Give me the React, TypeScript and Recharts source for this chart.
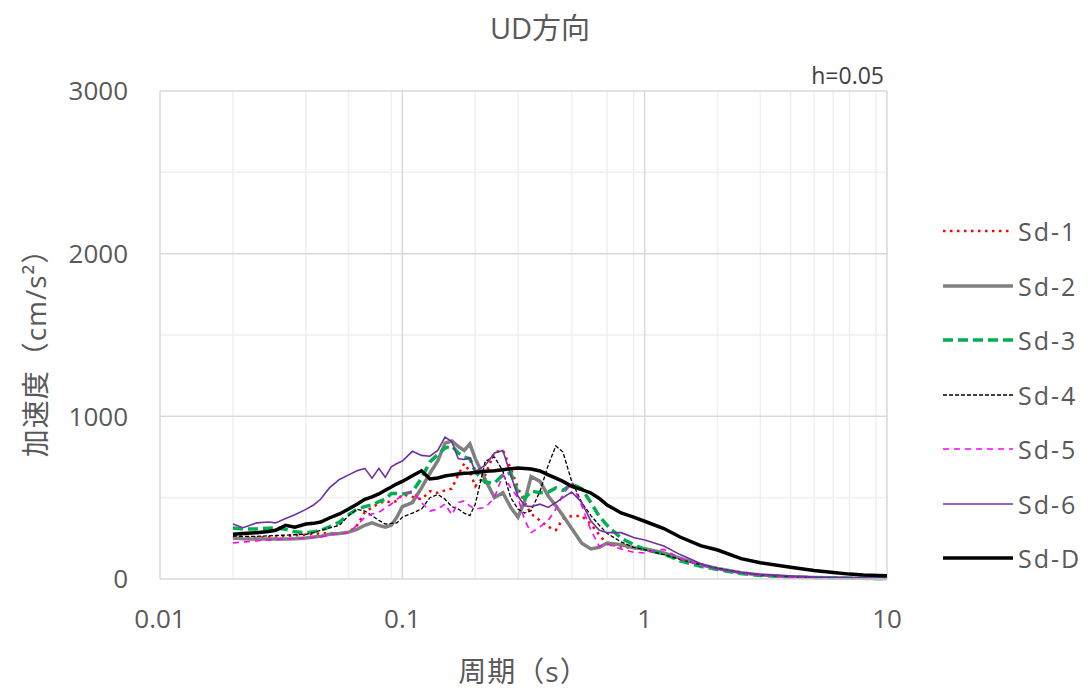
import React from 'react';
import { LineChart, Line, XAxis, YAxis, CartesianGrid } from 'recharts';

// 周期 (s)
const periods = [
  0.02, 0.022, 0.025, 0.028, 0.03, 0.033, 0.036, 0.04, 0.043, 0.046,
  0.05, 0.055, 0.06, 0.065, 0.07, 0.075, 0.08, 0.085, 0.09, 0.095,
  0.1, 0.11, 0.12, 0.13, 0.14, 0.15, 0.16, 0.17, 0.18, 0.19,
  0.2, 0.22, 0.24, 0.26, 0.28, 0.3, 0.32, 0.34, 0.37, 0.4,
  0.43, 0.46, 0.5, 0.55, 0.6, 0.65, 0.7, 0.8, 0.9, 1.0,
  1.2, 1.4, 1.7, 2, 2.5, 3, 4, 5, 6, 7,
  8, 10,
];

// 加速度応答スペクトル (cm/s²), h=0.05
const sd1 = [
  264, 258, 254, 258, 262, 264, 268, 272, 278, 280,
  283, 280, 285, 330, 410, 440, 465, 480, 470, 480,
  520, 505, 490, 540, 530, 545, 555, 640, 710, 660,
  570, 640, 780, 790, 680, 560, 470, 400, 360, 320,
  300, 370, 387, 387, 338, 270, 215, 200, 190, 180,
  155, 125, 90, 65, 38, 24, 13, 9, 7, 5,
  4, 3,
];
const sd2 = [
  252, 248, 246, 246, 246, 246, 248, 252, 258, 262,
  275, 280, 288, 305, 330, 345, 330, 318, 330, 380,
  445, 470, 560, 650, 725, 835, 848, 815, 790, 830,
  740, 610, 500, 530, 440, 380, 480, 630, 600, 510,
  450, 390, 310, 220, 185, 195, 221, 210, 192, 186,
  160, 128, 88, 65, 38, 25, 14, 9, 7, 5,
  4, 3,
];
const sd3 = [
  314, 308, 308, 312, 314, 305, 290, 283, 290, 298,
  320, 350, 395, 430, 445, 455, 475, 490, 525, 525,
  522, 535, 620, 720, 765, 805, 818, 775, 750, 740,
  660, 595, 590, 640, 652, 530, 495, 541, 530, 535,
  560, 545, 584, 555, 470, 385, 330, 250, 212, 182,
  154, 111, 78, 58, 33, 22, 12, 8, 6, 5,
  4, 3,
];
const sd4 = [
  264, 262, 262, 265, 268, 270, 272, 275, 285, 300,
  314, 330, 390, 428, 418, 390, 360, 338, 342, 345,
  380, 405, 430, 500, 520, 490, 445, 430, 405, 390,
  460, 725, 750, 664, 500, 430, 405, 420, 540, 700,
  818, 780, 600, 470, 390, 330, 280, 228, 195, 180,
  150, 120, 88, 66, 40, 26, 14, 9, 7, 5,
  4, 3,
];
const sd5 = [
  221, 228, 234, 240, 242, 245, 250, 252, 256, 260,
  270, 278, 283, 330, 380, 400, 410, 435, 461, 490,
  515, 541, 470, 418, 430, 461, 395, 470, 480, 449,
  430, 440, 500, 640, 560, 500, 360, 285, 320, 360,
  430, 520, 590, 450, 300, 200, 215, 184, 165, 160,
  182, 125, 85, 60, 35, 22, 12, 8, 6, 5,
  4, 3,
];
const sd6 = [
  338, 315, 345, 350, 345, 372, 395, 428, 455, 490,
  560, 612, 640, 665, 680, 620, 680, 625, 690, 710,
  725, 785, 760, 755, 790, 872, 845, 740, 735, 744,
  660, 700, 775, 790, 640, 510, 450, 445, 460, 440,
  470, 500, 535, 470, 357, 300, 285, 285, 255, 240,
  203, 150, 95, 62, 40, 28, 18, 12, 9, 7,
  6, 5,
];
const sdD = [
  275, 280, 285, 292, 300, 330, 318, 338, 342, 350,
  375, 400, 430, 460, 490, 505, 523, 545, 565, 585,
  600, 635, 665, 615, 621, 633, 640, 645, 650, 652,
  655, 662, 665, 672, 678, 682, 680, 676, 664, 640,
  620, 600, 570, 550, 529, 495, 455, 406, 380, 355,
  310, 258, 205, 178, 125, 100, 72, 52, 40, 30,
  25, 20,
];

const seriesNames = ['Sd-1', 'Sd-2', 'Sd-3', 'Sd-4', 'Sd-5', 'Sd-6', 'Sd-D'];
const seriesValues = [sd1, sd2, sd3, sd4, sd5, sd6, sdD];

const xTicks = [0.01, 0.1, 1, 10];
const xMinor = [
  0.02, 0.03, 0.04, 0.05, 0.06, 0.07, 0.08, 0.09,
  0.2, 0.3, 0.4, 0.5, 0.6, 0.7, 0.8, 0.9,
  2, 3, 4, 5, 6, 7, 8, 9,
];
const yTicks = [0, 1000, 2000, 3000];
const yMinor = [500, 1500, 2500];

const rows = periods.map((t, i) => {
  const row: Record<string, number> = { t };
  seriesNames.forEach((name, k) => {
    row[name] = seriesValues[k][i];
  });
  return row;
});

type LineStyle = { color: string; width: number; dash?: string };

const lineStyles: Record<string, LineStyle> = {
  'Sd-1': { color: '#ff0000', width: 2.5, dash: '2.5 4.5' },
  'Sd-2': { color: '#808080', width: 3.5 },
  'Sd-3': { color: '#00b050', width: 3.5, dash: '10 5' },
  'Sd-4': { color: '#000000', width: 1.3, dash: '4 2' },
  'Sd-5': { color: '#ff00ff', width: 1.6, dash: '6 5' },
  'Sd-6': { color: '#7030a0', width: 1.6 },
  'Sd-D': { color: '#000000', width: 3.5 },
};

const W = 1091;
const H = 698;
const FONT = "'Open Sans', 'Noto Sans CJK JP', sans-serif";
const TEXT = '#595959';

const formatPeriod = (v: number) => String(v);

function LegendBox() {
  return (
    <div style={{ position: 'absolute', left: 940, top: 204, width: 150 }}>
      {seriesNames.map((name) => {
        const s = lineStyles[name];
        return (
          <div key={name} style={{ display: 'flex', alignItems: 'center', height: 54.5 }}>
            <svg width={78} height={12} style={{ flex: 'none' }}>
              <line
                x1={3}
                x2={73}
                y1={6}
                y2={6}
                stroke={s.color}
                strokeWidth={s.width}
                strokeDasharray={s.dash}
              />
            </svg>
            <span style={{ fontSize: 25, color: TEXT, letterSpacing: 2 }}>{name}</span>
          </div>
        );
      })}
    </div>
  );
}

export default function App() {
  return (
    <div
      style={{
        position: 'absolute',
        left: 0,
        top: 0,
        width: W,
        height: H,
        background: '#ffffff',
        fontFamily: FONT,
      }}
    >
      <LineChart
        width={W}
        height={H}
        data={rows}
        margin={{ top: 91, right: 204, bottom: 0, left: 0 }}
      >
        <CartesianGrid
          horizontalValues={yMinor}
          verticalValues={xMinor}
          stroke="#efefef"
          strokeWidth={1.5}
        />
        <CartesianGrid
          horizontalValues={[1000, 2000, 3000]}
          verticalValues={[0.1, 1, 10]}
          stroke="#d9d9d9"
          strokeWidth={1.5}
        />
        <XAxis
          dataKey="t"
          type="number"
          scale="log"
          domain={[0.01, 10]}
          ticks={xTicks}
          tickFormatter={formatPeriod}
          allowDataOverflow
          height={119}
          axisLine={{ stroke: '#d9d9d9', strokeWidth: 1.5 }}
          tickLine={false}
          tickSize={0}
          tickMargin={31}
          tick={{ fill: TEXT, fontSize: 26, fontFamily: FONT }}
        />
        <YAxis
          type="number"
          domain={[0, 3000]}
          ticks={yTicks}
          width={160}
          axisLine={{ stroke: '#d9d9d9', strokeWidth: 1.5 }}
          tickLine={false}
          tickSize={0}
          tickMargin={32}
          tick={{ fill: TEXT, fontSize: 26, fontFamily: FONT }}
        />
        {seriesNames.map((name) => {
          const s = lineStyles[name];
          return (
            <Line
              key={name}
              dataKey={name}
              name={name}
              type="linear"
              stroke={s.color}
              strokeWidth={s.width}
              strokeDasharray={s.dash}
              dot={false}
              activeDot={false}
              isAnimationActive={false}
            />
          );
        })}
      </LineChart>

      <div
        style={{
          position: 'absolute',
          left: 0,
          width: 1080,
          top: 10,
          textAlign: 'center',
          fontSize: 29,
          color: TEXT,
          lineHeight: '36px',
        }}
      >
        UD方向
      </div>
      <div
        style={{
          position: 'absolute',
          right: W - 884,
          top: 60,
          fontSize: 23,
          color: '#404040',
          lineHeight: '30px',
        }}
      >
        h=0.05
      </div>
      <div
        style={{
          position: 'absolute',
          left: 35,
          top: 346,
          transform: 'translate(-50%, -50%) rotate(-90deg)',
          whiteSpace: 'nowrap',
          fontSize: 28,
          letterSpacing: 1,
          color: TEXT,
          lineHeight: '34px',
        }}
      >
        加速度（cm/s²）
      </div>
      <div
        style={{
          position: 'absolute',
          left: 160,
          width: 727,
          top: 654,
          textAlign: 'center',
          fontSize: 28,
          letterSpacing: 1,
          color: TEXT,
          lineHeight: '34px',
        }}
      >
        周期（s）
      </div>
      <LegendBox />
    </div>
  );
}
